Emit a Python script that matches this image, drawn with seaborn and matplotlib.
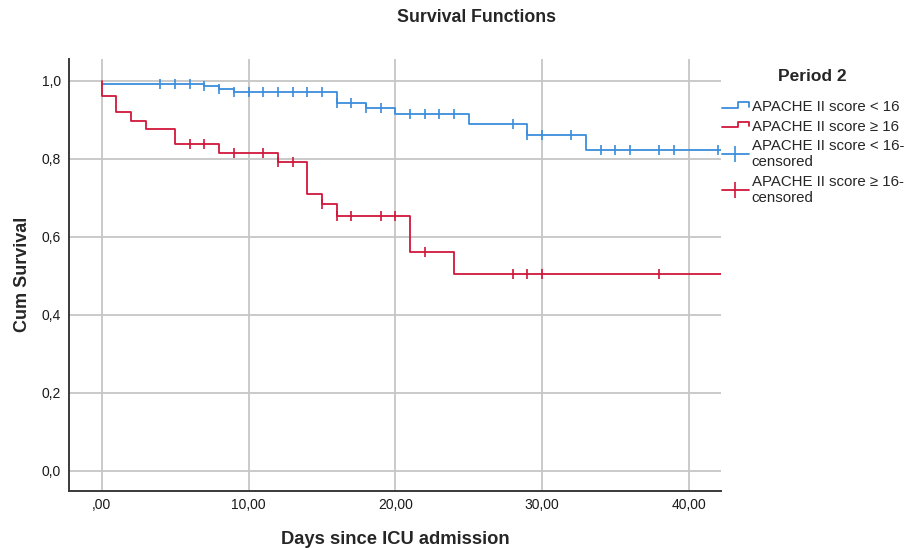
import numpy as np
import pandas as pd
import matplotlib
matplotlib.use("Agg")
import matplotlib.pyplot as plt
from matplotlib.lines import Line2D
from matplotlib.legend_handler import HandlerBase
import seaborn as sns

# Kaplan-Meier step data: event times and cumulative survival after each step
low_times = [0, 7, 8, 9, 16, 18, 20, 25, 29, 33, 43]
low_surv = [0.993, 0.986, 0.978, 0.971, 0.944, 0.930, 0.914, 0.888, 0.860, 0.823, 0.823]
low_censored = [4, 5, 6, 7, 8, 9, 10, 11, 12, 13, 14, 15, 16, 17, 18, 19,
                21, 22, 23, 24, 28, 29, 30, 32, 34, 35, 36, 38, 39, 42]

high_times = [0, 0, 1, 2, 3, 5, 8, 12, 14, 15, 16, 21, 24, 43]
high_surv = [1.0, 0.960, 0.920, 0.898, 0.877, 0.837, 0.816, 0.793,
             0.710, 0.683, 0.653, 0.561, 0.505, 0.505]
high_censored = [6, 7, 9, 11, 12, 13, 15, 16, 17, 19, 20, 22, 28, 29, 30, 38]

group_labels = ["APACHE II score < 16", "APACHE II score \u2265 16"]
x_ticks = [0, 10, 20, 30, 40]
x_tick_labels = [",00", "10,00", "20,00", "30,00", "40,00"]
y_ticks = [0.0, 0.2, 0.4, 0.6, 0.8, 1.0]
y_tick_labels = ["0,0", "0,2", "0,4", "0,6", "0,8", "1,0"]

BLUE = "#3a8ddc"
RED = "#d0173a"

sns.set_style("white")
plt.rcParams["font.family"] = ["Liberation Sans", "DejaVu Sans"]


def surv_at(times, surv, t_query):
    """Survival level of a right-continuous step curve at the given times."""
    times = np.asarray(times, dtype=float)
    surv = np.asarray(surv, dtype=float)
    idx = np.searchsorted(times, t_query, side="right") - 1
    return surv[idx]


fig = plt.figure(figsize=(9.17, 5.48), dpi=100)
ax = fig.add_axes([0.0756, 0.1046, 0.7107, 0.7877])

ax.grid(True, color="#c6c6c6", linewidth=1.3)
ax.set_axisbelow(True)

curves = [
    (low_times, low_surv, low_censored, BLUE),
    (high_times, high_surv, high_censored, RED),
]
for times, surv, cens, color in curves:
    df = pd.DataFrame({"t": times, "s": surv})
    sns.lineplot(data=df, x="t", y="s", estimator=None, sort=False,
                 drawstyle="steps-post", color=color, linewidth=1.3, ax=ax,
                 legend=False)
    cdf = pd.DataFrame({"t": cens, "s": surv_at(times, surv, cens)})
    sns.scatterplot(data=cdf, x="t", y="s", marker="|", s=60, linewidth=1.2,
                    color=color, ax=ax, legend=False, zorder=3)

ax.set_xlim(-2.21, 42.2)
ax.set_ylim(-0.0515, 1.056)
ax.set_xticks(x_ticks)
ax.set_xticklabels(x_tick_labels)
ax.set_yticks(y_ticks)
ax.set_yticklabels(y_tick_labels)
ax.tick_params(axis="both", length=0, labelsize=10, colors="#1a1a1a")
ax.tick_params(axis="x", pad=5)
ax.tick_params(axis="y", pad=6)

for side in ("top", "right"):
    ax.spines[side].set_visible(False)
for side in ("left", "bottom"):
    ax.spines[side].set_color("#3a3a3a")
    ax.spines[side].set_linewidth(1.4)

ax.set_xlabel("Days since ICU admission", fontsize=13.2, fontweight="bold",
              labelpad=14)
ax.set_ylabel("Cum Survival", fontsize=13, fontweight="bold", labelpad=8)

fig.text(477 / 917, 1 - 17 / 548, "Survival Functions", fontsize=12.8,
         fontweight="bold", ha="center", va="center")


class StepHandle(HandlerBase):
    """Legend key drawn as a small survival step."""

    def create_artists(self, legend, orig_handle, xdescent, ydescent,
                       width, height, fontsize, trans):
        x0, y0 = -xdescent, -ydescent
        xs = [x0, x0 + 0.6 * width, x0 + 0.6 * width, x0 + width, x0 + width]
        ys = [y0 + 0.3 * height, y0 + 0.3 * height, y0 + 0.85 * height,
              y0 + 0.85 * height, y0 + 0.4 * height]
        line = Line2D(xs, ys, color=orig_handle.get_color(), linewidth=1.3)
        line.set_transform(trans)
        return [line]


step_low = Line2D([], [], color=BLUE)
step_high = Line2D([], [], color=RED)
cens_low = Line2D([], [], color=BLUE, marker="|", markersize=12,
                  markeredgewidth=1.2, linewidth=1.3)
cens_high = Line2D([], [], color=RED, marker="|", markersize=12,
                   markeredgewidth=1.2, linewidth=1.3)

leg = fig.legend(
    [step_low, step_high, cens_low, cens_high],
    [group_labels[0], group_labels[1],
     group_labels[0] + "-\ncensored", group_labels[1] + "-\ncensored"],
    handler_map={step_low: StepHandle(), step_high: StepHandle()},
    loc="upper left", bbox_to_anchor=(714 / 917, 1 - 61 / 548),
    frameon=False, fontsize=10.8, numpoints=1, handlelength=1.85,
    handletextpad=0.15, labelspacing=0.36, borderpad=0.0,
    title="Period 2", title_fontproperties={"weight": "bold", "size": 12.5},
)
leg._legend_box.sep = 12

fig.savefig("out.png", dpi=100)
